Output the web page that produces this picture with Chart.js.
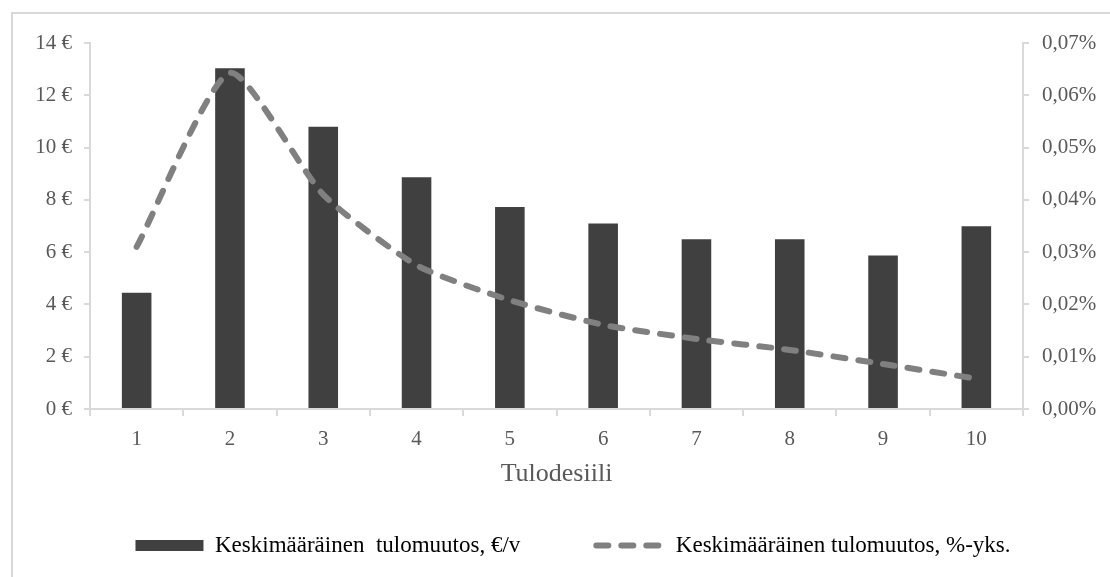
<!DOCTYPE html>
<html>
<head>
<meta charset="utf-8">
<script src="https://cdn.jsdelivr.net/npm/chart.js@4.4.1/dist/chart.umd.min.js"></script>
<style>
    html, body { margin: 0; padding: 0; background: #fff; overflow: hidden; }
    #frame {
        position: absolute; left: 11px; top: 12px; width: 1200px; height: 700px;
        border-left: 2px solid #d9d9d9; border-top: 2px solid #d9d9d9;
    }
    #tuloChart { position: absolute; left: 0; top: 0; }
</style>
</head>
<body>
<div id="frame"></div>
<canvas id="tuloChart" width="1146" height="577"></canvas>
<script>
// Tulodesiilit ja arvot (luettu kuvasta)
const desiilit = ['1', '2', '3', '4', '5', '6', '7', '8', '9', '10'];
const muutosEuro = [4.45, 13.03, 10.80, 8.86, 7.73, 7.10, 6.49, 6.49, 5.87, 6.99];
const muutosProsentti = [0.031, 0.0643, 0.041, 0.0275, 0.0208, 0.0161, 0.0134, 0.0113, 0.0086, 0.0058];
const sarjaNimet = ['Keskimääräinen  tulomuutos, €/v', 'Keskimääräinen tulomuutos, %-yks.'];

const tekstiVari = '#595959';
const akseliVari = '#d9d9d9';
Chart.defaults.font.family = '"Liberation Serif", "Times New Roman", serif';
Chart.defaults.color = tekstiVari;

document.addEventListener('DOMContentLoaded', function () {
    let ctx = document.getElementById('tuloChart').getContext('2d');

    let data = {
        labels: desiilit,
        datasets: [{
            type: 'line',
            label: sarjaNimet[1],
            data: muutosProsentti,
            yAxisID: 'yPros',
            borderColor: '#808080',
            borderWidth: 6,
            borderDash: [12, 13],
            borderCapStyle: 'round',
            pointRadius: 0,
            tension: 0.2,
            fill: false,
            order: 0
        }, {
            type: 'bar',
            label: sarjaNimet[0],
            data: muutosEuro,
            yAxisID: 'yEuro',
            backgroundColor: '#404040',
            borderWidth: 0,
            barPercentage: 0.317,
            categoryPercentage: 1,
            order: 1
        }]
    };

    let options = {
        responsive: false,
        animation: false,
        layout: { padding: { top: 43, bottom: 10, left: 0, right: 0 } },
        plugins: {
            tooltip: { enabled: false },
            legend: {
                position: 'bottom',
                labels: {
                    usePointStyle: true,
                    pointStyleWidth: 68,
                    boxHeight: 11,
                    padding: 76,
                    color: tekstiVari,
                    font: { size: 23 },
                    generateLabels: function () {
                        return [{
                            text: sarjaNimet[0],
                            pointStyle: 'rect',
                            fillStyle: '#404040',
                            strokeStyle: '#404040',
                            lineWidth: 0,
                            datasetIndex: 1
                        }, {
                            text: sarjaNimet[1],
                            pointStyle: 'line',
                            fillStyle: 'rgba(0,0,0,0)',
                            strokeStyle: '#808080',
                            lineWidth: 6,
                            lineDash: [12, 13],
                            lineCap: 'round',
                            datasetIndex: 0
                        }];
                    }
                }
            }
        },
        scales: {
            x: {
                offset: true,
                grid: { offset: true, drawOnChartArea: false, color: akseliVari, lineWidth: 2, tickLength: 7 },
                border: { color: akseliVari, width: 2 },
                ticks: { font: { size: 21 }, padding: 11, color: tekstiVari },
                // legendan iso padding vie tilaa, joten otsikko siirretään alaspäin negatiivisella paddingilla
                title: { display: true, text: 'Tulodesiili', font: { size: 26 }, color: tekstiVari, padding: { top: 0, bottom: -32 } },
                afterFit: function (scale) { scale.height = 49; }
            },
            yEuro: {
                position: 'left',
                min: 0, max: 14,
                ticks: {
                    stepSize: 2, font: { size: 21 }, padding: 12, color: tekstiVari,
                    callback: function (v) { return v + ' €'; }
                },
                grid: { drawOnChartArea: false, color: akseliVari, lineWidth: 2, tickLength: 6 },
                border: { color: akseliVari, width: 2 },
                afterFit: function (scale) { scale.width = 90; }
            },
            yPros: {
                position: 'right',
                min: 0, max: 0.07,
                ticks: {
                    stepSize: 0.01, font: { size: 21 }, padding: 13, color: tekstiVari,
                    callback: function (v) { return v.toFixed(2).replace('.', ',') + '%'; }
                },
                grid: { drawOnChartArea: false, color: akseliVari, lineWidth: 2, tickLength: 6 },
                border: { color: akseliVari, width: 2 },
                afterFit: function (scale) { scale.width = 123; }
            }
        }
    };

    let tuloChart = new Chart(ctx, { data: data, options: options });
});
</script>
</body>
</html>
